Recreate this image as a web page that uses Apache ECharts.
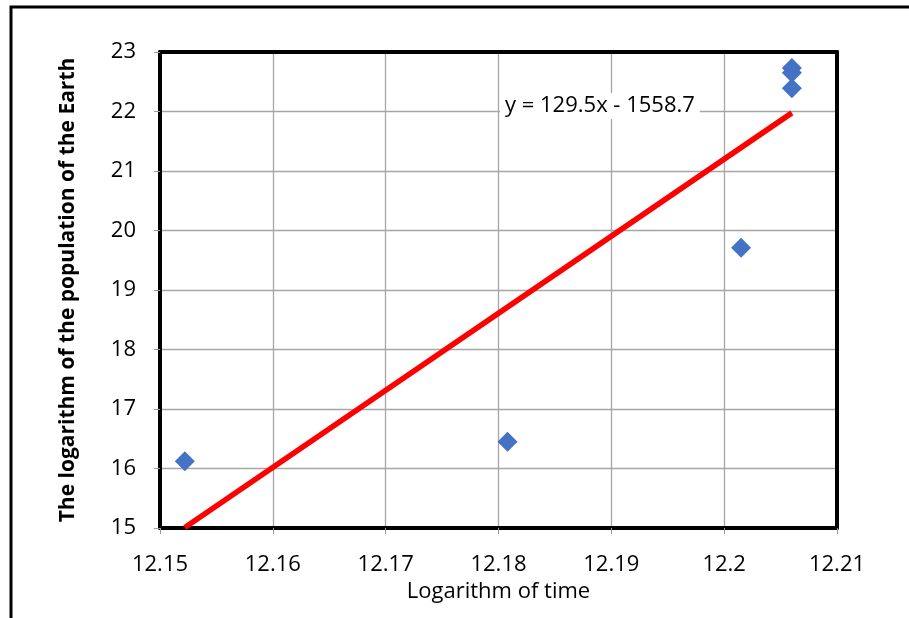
<!DOCTYPE html>
<html>
<head>
<meta charset="utf-8">
<script src="https://cdn.jsdelivr.net/npm/echarts@6/dist/echarts.min.js"></script>
<style>
  html, body { margin: 0; padding: 0; background: #fff; }
  #main { width: 909px; height: 618px; }
</style>
</head>
<body>
<div id="main"></div>
<script>
// points
var logTime = [12.1522, 12.1808, 12.2015, 12.2060, 12.2060, 12.2060];
var logPopulation = [16.12, 16.45, 19.71, 22.73, 22.65, 22.39];
// trendline from the equation shown on the chart
var slope = 129.5;
var intercept = -1558.7;
var xTicks = [12.15, 12.21];
var yTicks = [15, 23];

var points = logTime.map(function (x, i) { return [x, logPopulation[i]]; });
var xMin = Math.min.apply(null, logTime);
var xMax = Math.max.apply(null, logTime);
var trend = [[xMin, slope * xMin + intercept], [xMax, slope * xMax + intercept]];

var font = '"Open Sans", "Liberation Sans", sans-serif';
var frameLine = { show: true, lineStyle: { color: '#000', width: 4 } };

var chart = echarts.init(document.getElementById('main'));
chart.setOption({
    animation: false,
    backgroundColor: '#fff',
    grid: { left: 160, right: 72, top: 52, bottom: 90 },
    graphic: [
        {
            type: 'rect',
            shape: { x: 11, y: 7, width: 1000, height: 800 },
            style: { fill: 'none', stroke: '#000', lineWidth: 3 },
            z: 0
        },
        {
            type: 'text',
            left: 500, top: 93,
            style: {
                text: 'y = 129.5x - 1558.7',
                fontFamily: font,
                fontSize: 22,
                fill: '#000',
                backgroundColor: '#fff',
                padding: [2, 5]
            },
            z: 10
        }
    ],
    xAxis: [
        {
            type: 'value',
            min: xTicks[0], max: xTicks[1], interval: 0.01,
            name: 'Logarithm of time',
            nameLocation: 'middle',
            nameGap: 53,
            nameTextStyle: { fontFamily: font, fontSize: 22, color: '#000' },
            axisLine: frameLine,
            axisTick: { show: true, length: 6, lineStyle: { color: '#999' } },
            axisLabel: {
                fontFamily: font, fontSize: 22, color: '#000', margin: 26,
                formatter: function (v) { return String(Math.round(v * 100) / 100); }
            },
            splitLine: { show: true, lineStyle: { color: '#a6a6a6', width: 1.3 } }
        },
        {
            type: 'value', position: 'top',
            min: xTicks[0], max: xTicks[1], interval: 0.01,
            axisLine: frameLine,
            axisTick: { show: false }, axisLabel: { show: false }, splitLine: { show: false }
        }
    ],
    yAxis: [
        {
            type: 'value',
            min: yTicks[0], max: yTicks[1], interval: 1,
            name: 'The logarithm of the population of the Earth',
            nameLocation: 'middle',
            nameGap: 81,
            nameTextStyle: { fontFamily: font, fontSize: 21, fontWeight: 'bold', color: '#000' },
            axisLine: frameLine,
            axisTick: { show: true, length: 6, lineStyle: { color: '#999' } },
            axisLabel: { fontFamily: font, fontSize: 22, color: '#000', margin: 24 },
            splitLine: { show: true, lineStyle: { color: '#a6a6a6', width: 1.3 } }
        },
        {
            type: 'value', position: 'right',
            min: yTicks[0], max: yTicks[1], interval: 1,
            axisLine: frameLine,
            axisTick: { show: false }, axisLabel: { show: false }, splitLine: { show: false }
        }
    ],
    series: [
        {
            name: 'trend',
            type: 'line',
            data: trend,
            symbol: 'none',
            lineStyle: { color: '#ff0000', width: 5.5 },
            z: 2
        },
        {
            name: 'data',
            type: 'scatter',
            data: points,
            symbol: 'diamond',
            symbolSize: [20, 20],
            itemStyle: { color: '#4472c4', opacity: 1 },
            z: 3
        }
    ]
});
</script>
</body>
</html>
